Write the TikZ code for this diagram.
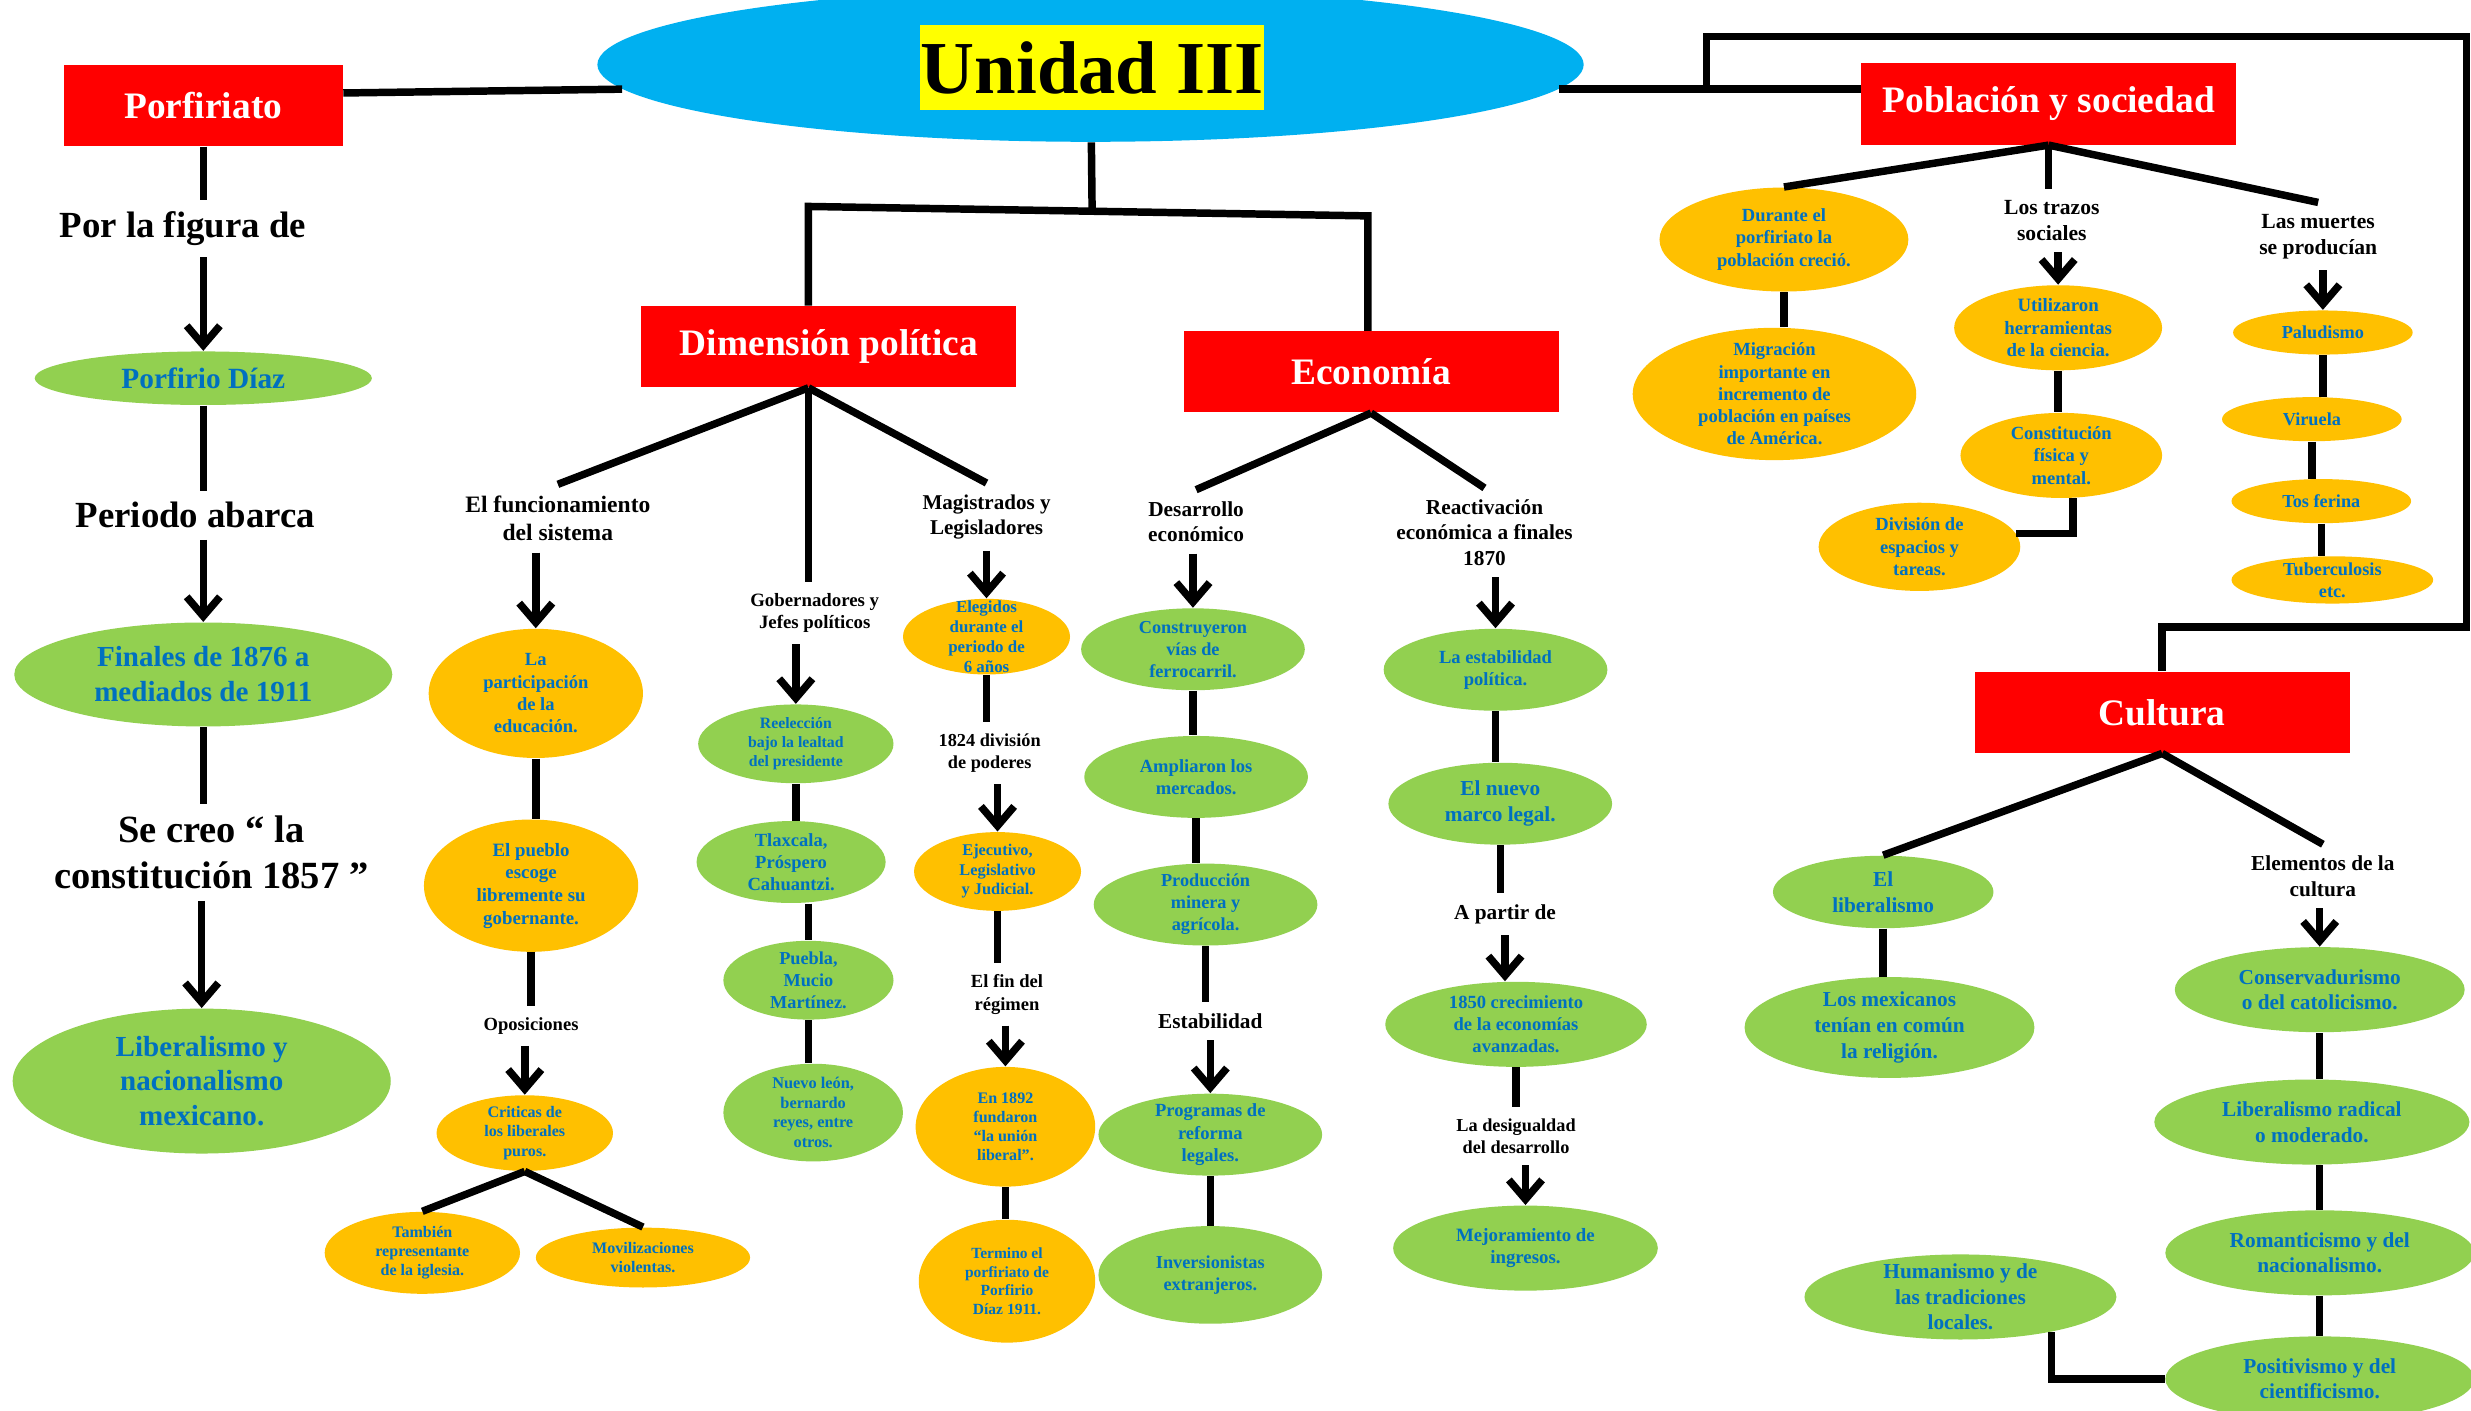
\documentclass[tikz,border=0pt]{standalone}
\usepackage{fontspec}
\setmainfont{Liberation Serif}
\usetikzlibrary{arrows.meta,shapes.geometric}

\definecolor{rojo}{HTML}{FF0000}
\definecolor{naranja}{HTML}{FFC000}
\definecolor{verde}{HTML}{92D050}
\definecolor{azul}{HTML}{0070C0}
\definecolor{celeste}{HTML}{00B0F0}
\definecolor{amarillo}{HTML}{FFFF00}
\newcommand{\tam}[1]{\fontsize{#1}{\dimexpr #1pt*12/10\relax}\selectfont}

\begin{document}
\begin{tikzpicture}
  [x=0.02cm,y=-0.02cm,>={Straight Barb[length=7pt,width=12pt]},
   linea/.style={line width=2.7pt},
   caja/.style={fill=rojo,text=white,font=\bfseries\tam{13.5},minimum width=4.76cm,minimum height=1.03cm,inner sep=0pt},
   ovalo/.style n args={4}{ellipse,fill=#1,text=azul,font=\bfseries\tam{#4},align=center,minimum width=#2*0.04cm,minimum height=#3*0.04cm,inner sep=-12pt},
   texto/.style={font=\bfseries\tam{#1},align=center,inner sep=4pt},]

\fill[white] (0,0) rectangle (1568,895);
\useasboundingbox (0,0) rectangle (1568,895);

\node[ellipse,fill=celeste,minimum width=12.52cm,minimum height=1.96cm,inner sep=0pt] (titulo) at (692,41) {};
\node[fill=amarillo,font=\bfseries\tam{27},minimum width=4.36cm,minimum height=1.08cm,inner sep=0pt] (rotulo) at (693,43) {Unidad III};

\node[caja,minimum width=3.54cm] (porf) at (129,67) {Porfiriato};
\node[caja] (dim) at (526,220) {Dimensión política};
\node[caja] (eco) at (870,236) {Economía};
\node[caja] (pob) at (1300,66) {Población y sociedad};
\node[caja] (cul) at (1372,452) {Cultura};

\node[texto=13.3] (fig) at (116,145) {Por la figura de};
\node[ovalo={verde}{107}{17}{10.6}] (diaz) at (129,240) {Porfirio Díaz};
\node[texto=13.3] (periodo) at (124,327) {Periodo abarca};
\node[ovalo={verde}{120}{33}{10.5}] (fechas) at (129,428) {Finales de 1876 a\\mediados de 1911};
\node[texto=13.9] (creo) at (134,541) {Se creo “ la\\constitución 1857 ”};
\node[ovalo={verde}{120}{46}{10.5}] (libnac) at (128,686) {Liberalismo y\\nacionalismo\\mexicano.};

\node[texto=8.5] (func) at (354,329) {El funcionamiento\\del sistema};
\node[ovalo={naranja}{68}{41}{6.7}] (edu) at (340,440) {La\\participación\\de la\\educación.};
\node[ovalo={naranja}{68}{42}{6.8}] (pueblo) at (337,562) {El pueblo\\escoge\\libremente su\\gobernante.};
\node[texto=6.7] (opo) at (337,651) {Oposiciones};
\node[ovalo={naranja}{56}{24}{5.8}] (criticas) at (333,719) {Criticas de\\los liberales\\puros.};
\node[ovalo={naranja}{62}{26}{5.8}] (iglesia) at (268,795) {También\\representante\\de la iglesia.};
\node[ovalo={naranja}{68}{19}{5.8}] (movil) at (408,798) {Movilizaciones\\violentas.};

\node[texto=6.8] (gob) at (517,389) {Gobernadores y\\Jefes políticos};
\node[ovalo={verde}{62}{25}{5.7}] (reel) at (505,472) {Reelección\\bajo la lealtad\\del presidente};
\node[ovalo={verde}{60}{26}{6.7}] (tlax) at (502,547) {Tlaxcala,\\Próspero\\Cahuantzi.};
\node[ovalo={verde}{54}{25}{6.6}] (puebla) at (513,622) {Puebla,\\Mucio\\Martínez.};
\node[ovalo={verde}{57}{31}{5.9}] (nuevo) at (516,706) {Nuevo león,\\bernardo\\reyes, entre\\otros.};

\node[texto=7.6] (mag) at (626,328) {Magistrados y\\Legisladores};
\node[ovalo={naranja}{53}{24}{6.1}] (elegidos) at (626,404) {Elegidos\\durante el\\periodo de\\6 años};
\node[texto=6.6] (div1824) at (628,478) {1824 división\\de poderes};
\node[ovalo={naranja}{53}{25}{5.9}] (poderes) at (633,553) {Ejecutivo,\\Legislativo\\y Judicial.};
\node[texto=6.7] (fin) at (639,631) {El fin del\\régimen};
\node[ovalo={naranja}{57}{38}{5.8}] (union) at (638,715) {En 1892\\fundaron\\“la unión\\liberal”.};
\node[ovalo={naranja}{56}{39}{5.6}] (termino) at (639,813) {Termino el\\porfiriato de\\Porfirio\\Díaz 1911.};

\node[texto=7.7] (desa) at (759,331) {Desarrollo\\económico};
\node[ovalo={verde}{71}{26}{6.6}] (vias) at (757,412) {Construyeron\\vías de\\ferrocarril.};
\node[ovalo={verde}{71}{26}{6.7}] (merc) at (759,493) {Ampliaron los\\mercados.};
\node[ovalo={verde}{71}{26}{6.6}] (prod) at (765,574) {Producción\\minera y\\agrícola.};
\node[texto=7.7] (estab) at (768,648) {Estabilidad};
\node[ovalo={verde}{71}{26}{6.7}] (prog) at (768,720) {Programas de\\reforma\\legales.};
\node[ovalo={verde}{71}{31}{6.6}] (inv) at (768,809) {Inversionistas\\extranjeros.};

\node[texto=7.7] (reac) at (942,338) {Reactivación\\económica a finales\\1870};
\node[ovalo={verde}{71}{26}{6.7}] (estpol) at (949,425) {La estabilidad\\política.};
\node[ovalo={verde}{71}{26}{7.7}] (marco) at (952,510) {El nuevo\\marco legal.};
\node[texto=7.7] (apartir) at (955,580) {A partir de};
\node[ovalo={verde}{83}{27}{6.7}] (crec) at (962,650) {1850 crecimiento\\de la economías\\avanzadas.};
\node[texto=6.6] (desig) at (962,721) {La desigualdad\\del desarrollo};
\node[ovalo={verde}{84}{27}{6.8}] (ingr) at (968,792) {Mejoramiento de\\ingresos.};

\node[ovalo={naranja}{79}{33}{6.7}] (durante) at (1132,152) {Durante el\\porfiriato la\\población creció.};
\node[ovalo={naranja}{90}{42}{6.7}] (migra) at (1126,250) {Migración\\importante en\\incremento de\\población en países\\de América.};
\node[texto=7.8] (trazos) at (1302,140) {Los trazos\\sociales};
\node[ovalo={naranja}{66}{27}{6.8}] (herr) at (1306,208) {Utilizaron\\herramientas\\de la ciencia.};
\node[ovalo={naranja}{64}{27}{6.7}] (const) at (1308,289) {Constitución\\física y\\mental.};
\node[ovalo={naranja}{64}{28}{6.7}] (divi) at (1218,347) {División de\\espacios y\\tareas.};
\node[texto=7.8] (muertes) at (1471,150) {Las muertes\\se producían};
\node[ovalo={naranja}{57}{14}{6.6}] (palu) at (1474,211) {Paludismo};
\node[ovalo={naranja}{57}{14}{6.6}] (viru) at (1467,266) {Viruela};
\node[ovalo={naranja}{57}{14}{6.6}] (tos) at (1473,318) {Tos ferina};
\node[ovalo={naranja}{64}{15}{6.6}] (tuber) at (1480,368) {Tuberculosis\\etc.};

\node[ovalo={verde}{70}{23}{7.7}] (libe) at (1195,566) {El\\liberalismo};
\node[ovalo={verde}{92}{32}{7.7}] (mexi) at (1199,652) {Los mexicanos\\tenían en común\\la religión.};
\node[texto=7.7] (elem) at (1474,556) {Elementos de la\\cultura};
\node[ovalo={verde}{92}{27}{7.7}] (conser) at (1472,628) {Conservadurismo\\o del catolicismo.};
\node[ovalo={verde}{100}{27}{7.7}] (librad) at (1467,712) {Liberalismo radical\\o moderado.};
\node[ovalo={verde}{98}{27}{7.7}] (roman) at (1472,795) {Romanticismo y del\\nacionalismo.};
\node[ovalo={verde}{98}{27}{7.7}] (posit) at (1472,875) {Positivismo y del\\cientificismo.};
\node[ovalo={verde}{99}{27}{7.7}] (human) at (1244,823) {Humanismo y de\\las tradiciones\\locales.};

\coordinate (nudo) at (693,133);
\coordinate (nudoI) at (513,131);
\coordinate (nudoD) at (868,137);
\coordinate (esqA) at (1083,23);
\coordinate (esqB) at (1565,23);
\coordinate (esqC) at (1565,398);

\draw[linea] (titulo) -- (nudo);
\draw[linea] (dim.north -| nudoI) -- (nudoI) -- (nudoD) -- (eco.north -| nudoD);
\draw[linea] ([yshift=0.16cm]porf.east) -- (titulo.183);
\draw[linea] (titulo.357) -- (titulo.357 -| pob.west);
\draw[linea] (esqA |- titulo.357) -- (esqA) -- (esqB) -- (esqC) -- (esqC -| cul.north) -- (cul.north);

\draw[linea] (porf) -- (porf |- fig.north);
\draw[linea,->] (diaz |- fig.south) -- (diaz);
\draw[linea] (diaz) -- (diaz |- periodo.north);
\draw[linea,->] (fechas |- periodo.south) -- (fechas);
\draw[linea] (fechas) -- (fechas |- creo.north);
\draw[linea,->] (libnac |- creo.south) -- (libnac);

\draw[linea] (dim.south -| nudoI) -- (func.north);
\draw[linea] (dim.south -| nudoI) -- (nudoI |- gob.north);
\draw[linea] (dim.south -| nudoI) -- (mag.north);
\draw[linea,->] (edu |- func.south) -- (edu);
\draw[linea] (edu) -- (edu |- pueblo.north);
\draw[linea] (pueblo) -- (pueblo |- opo.north);
\draw[linea,->] (criticas |- opo.south) -- (criticas);
\draw[linea] (criticas.south) -- (iglesia.north);
\draw[linea] (criticas.south) -- (movil.north);
\draw[linea,->] (reel |- gob.south) -- (reel);
\draw[linea] (reel) -- (reel |- tlax.north);
\draw[linea] (puebla |- tlax.south) -- (puebla);
\draw[linea] (puebla) -- (puebla |- nuevo.north);
\draw[linea,->] (elegidos |- mag.south) -- (elegidos);
\draw[linea] (elegidos) -- (elegidos |- div1824.north);
\draw[linea,->] (poderes |- div1824.south) -- (poderes);
\draw[linea] (poderes) -- (poderes |- fin.north);
\draw[linea,->] (union |- fin.south) -- (union);
\draw[linea] (union) -- (union |- termino.north);

\draw[linea] (eco.south) -- (desa.north);
\draw[linea] (eco.south) -- (reac.north);
\draw[linea,->] (vias |- desa.south) -- (vias);
\draw[linea] (vias) -- (vias |- merc.north);
\draw[linea] (merc) -- (merc |- prod.north);
\draw[linea] (prod) -- (prod |- estab.north);
\draw[linea,->] (prog |- estab.south) -- (prog);
\draw[linea] (prog) -- (prog |- inv.north);
\draw[linea,->] (estpol |- reac.south) -- (estpol);
\draw[linea] (estpol) -- (estpol |- marco.north);
\draw[linea] (marco) -- (marco |- apartir.north);
\draw[linea,->] (apartir) -- (apartir |- crec.north);
\draw[linea] (crec) -- (crec |- desig.north);
\draw[linea,->] (ingr |- desig.south) -- (ingr);

\draw[linea] (pob.south) -- (durante.north);
\draw[linea] (pob.south) -- (pob.south |- trazos.north);
\draw[linea] (pob.south) -- (muertes.north);
\draw[linea] (durante) -- (durante |- migra.north);
\draw[linea,->] (herr |- trazos.south) -- (herr);
\draw[linea] (herr) -- (herr |- const.north);
\draw[linea] (const.285) |- (divi.8);
\draw[linea,->] (palu |- muertes.south) -- (palu);
\draw[linea] (palu) -- (palu |- viru.north);
\draw[linea] (viru) -- (viru |- tos.north);
\draw[linea] (tos) -- (tos |- tuber.north);

\draw[linea] (cul.south) -- (libe.north);
\draw[linea] (cul.south) -- (elem.north);
\draw[linea] (libe) -- (libe |- mexi.north);
\draw[linea,->] (conser |- elem.south) -- (conser);
\draw[linea] (conser) -- (conser |- librad.north);
\draw[linea] (roman |- librad.south) -- (roman);
\draw[linea] (roman) -- (roman |- posit.north);
\draw[linea] (human.339) |- (posit.west);

\end{tikzpicture}
\end{document}
